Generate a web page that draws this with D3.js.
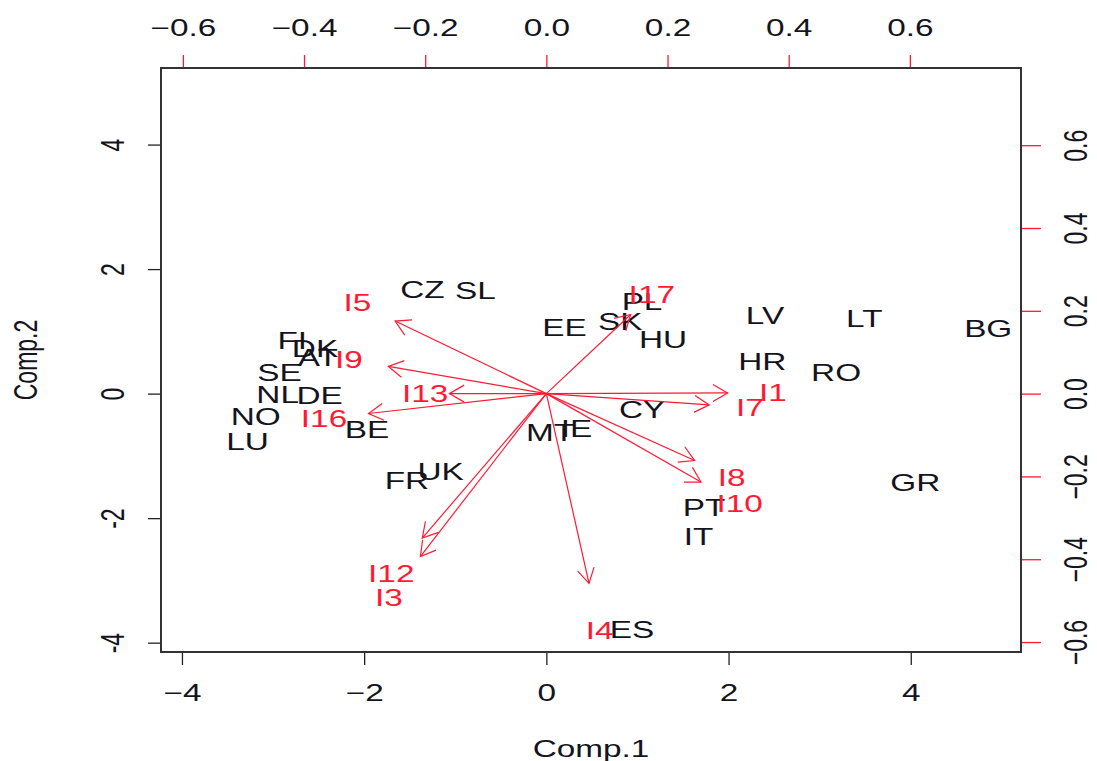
<!DOCTYPE html>
<html>
<head>
<meta charset="utf-8">
<script src="https://cdn.jsdelivr.net/npm/d3@7/dist/d3.min.js"></script>
<style>
  html, body { margin: 0; padding: 0; background: #ffffff; }
  svg { display: block; font-family: "Liberation Sans", Arial, sans-serif; }
</style>
</head>
<body>
<svg id="chart" width="1097" height="761"></svg>
<script>
// ---- Data (scores on Comp.1 / Comp.2) ----
const countries = ["CZ","SL","PL","EE","SK","HU","LV","LT","BG","HR","RO",
  "FI","DK","AT","SE","NL","DE","NO","LU","BE","CY","MT","IE","UK","FR",
  "PT","IT","GR","ES"];
const comp1 = [-1.36,-0.78,1.05,0.20,0.81,1.28,2.40,3.49,4.85,2.37,3.18,
  -2.79,-2.54,-2.51,-2.93,-2.95,-2.49,-3.19,-3.28,-1.97,1.05,0.04,0.33,-1.16,-1.53,
  1.73,1.67,4.05,0.94];
const comp2 = [1.67,1.65,1.48,1.06,1.16,0.87,1.25,1.20,1.04,0.51,0.34,
  0.85,0.72,0.58,0.34,-0.02,-0.03,-0.37,-0.77,-0.58,-0.26,-0.63,-0.56,-1.25,-1.40,
  -1.83,-2.30,-1.43,-3.79];

// ---- Data (loadings) ----
const variables = ["I1","I3","I4","I5","I7","I8","I9","I10","I12","I13","I16","I17"];
const load1 = [0.374,-0.260,0.088,-0.312,0.336,0.306,-0.326,0.319,-0.256,-0.200,-0.367,0.174];
const load2 = [0.002,-0.492,-0.573,0.219,-0.034,-0.202,0.082,-0.267,-0.436,0.000,-0.060,0.239];

// ---- Tick values ----
const xTicks = [-4,-2,0,2,4];
const yTicks = [-4,-2,0,2,4];
const x2Ticks = [-0.6,-0.4,-0.2,0.0,0.2,0.4,0.6];
const y2Ticks = [-0.6,-0.4,-0.2,0.0,0.2,0.4,0.6];
const xTitle = "Comp.1";
const yTitle = "Comp.2";

// ---- Layout ----
const SX = 1.45;      // horizontal stretch of glyphs
const FS = 23;        // font size
const L = 161, R = 1021, T = 68, B = 652;
const ratio = 6.65;
const RED = "#ff1a33";
const INK = "#141420";

const x = d3.scaleLinear().domain([-4.23, 5.21]).range([L, R]);
const y = d3.scaleLinear().domain([-4.15, 5.23]).range([B, T]);
const x2 = d3.scaleLinear().domain(x.domain().map(d => d / ratio)).range([L, R]);
const y2 = d3.scaleLinear().domain(y.domain().map(d => d / ratio)).range([B, T]);

const svg = d3.select("#chart");
svg.append("rect").attr("width", 1097).attr("height", 761).attr("fill", "#fff");

const minus = v => (v < 0 ? "\u2212" : "") + Math.abs(v);
const minus1 = v => (v < 0 ? "\u2212" : "") + Math.abs(v).toFixed(1);

function styleAxis(g, color, textTf) {
  g.select(".domain").remove();
  g.selectAll(".tick line").attr("stroke", color).attr("stroke-width", 1.3);
  g.selectAll(".tick text")
    .attr("x", null).attr("y", null)
    .attr("dy", "0.36em")
    .attr("text-anchor", "middle")
    .attr("fill", INK)
    .attr("font-size", FS)
    .attr("font-family", "Liberation Sans, Arial, sans-serif")
    .attr("transform", textTf);
}

// bottom axis
svg.append("g").attr("transform", `translate(0,${B})`)
  .call(d3.axisBottom(x).tickValues(xTicks).tickSize(13).tickFormat(minus))
  .call(g => styleAxis(g, "#222", `translate(0,41) scale(${SX},1)`));

// left axis
svg.append("g").attr("transform", `translate(${L},0)`)
  .call(d3.axisLeft(y).tickValues(yTicks).tickSize(13).tickFormat(d => String(d)))
  .call(g => styleAxis(g, "#222", `translate(-49,0) scale(${SX},1) rotate(-90)`));

// top axis (loadings)
svg.append("g").attr("transform", `translate(0,${T})`)
  .call(d3.axisTop(x2).tickValues(x2Ticks).tickSize(13).tickFormat(minus1))
  .call(g => styleAxis(g, RED, `translate(0,-40) scale(${SX},1)`));

// right axis (loadings)
svg.append("g").attr("transform", `translate(${R},0)`)
  .call(d3.axisRight(y2).tickValues(y2Ticks).tickSize(20).tickFormat(minus1))
  .call(g => styleAxis(g, RED, `translate(54,0) scale(${SX},1) rotate(-90)`));

// box
svg.append("rect").attr("x", L).attr("y", T).attr("width", R - L).attr("height", B - T)
  .attr("fill", "none").attr("stroke", "#333").attr("stroke-width", 2);

// axis titles
function label(px, py, txt, color, rot) {
  svg.append("text")
    .attr("transform", `translate(${px},${py}) scale(${SX},1)` + (rot ? ` rotate(${rot})` : ""))
    .attr("text-anchor", "middle").attr("dy", "0.36em")
    .attr("font-size", FS).attr("fill", color).text(txt);
}
label((L + R) / 2, 749, xTitle, INK, 0);
label(25, (T + B) / 2, yTitle, INK, -90);

// country labels
countries.forEach((c, i) => label(x(comp1[i]), y(comp2[i]), c, INK, 0));

// arrows (drawn to 0.8 of loading, label at full loading)
const arrows = svg.append("g").attr("stroke", RED).attr("stroke-width", 1.2).attr("fill", "none");
const ox = x2(0), oy = y2(0);
variables.forEach((v, i) => {
  const tx = x2(load1[i] * 0.8), ty = y2(load2[i] * 0.8);
  arrows.append("line").attr("x1", ox).attr("y1", oy).attr("x2", tx).attr("y2", ty);
  const ang = Math.atan2(ty - oy, tx - ox);
  const len = 17, a = Math.PI / 6;
  const p1 = [tx - len * Math.cos(ang - a), ty - len * Math.sin(ang - a)];
  const p2 = [tx - len * Math.cos(ang + a), ty - len * Math.sin(ang + a)];
  arrows.append("path").attr("d", `M${p1[0]},${p1[1]}L${tx},${ty}L${p2[0]},${p2[1]}`);
});
variables.forEach((v, i) => label(x2(load1[i]), y2(load2[i]), v, RED, 0));
</script>
</body>
</html>
